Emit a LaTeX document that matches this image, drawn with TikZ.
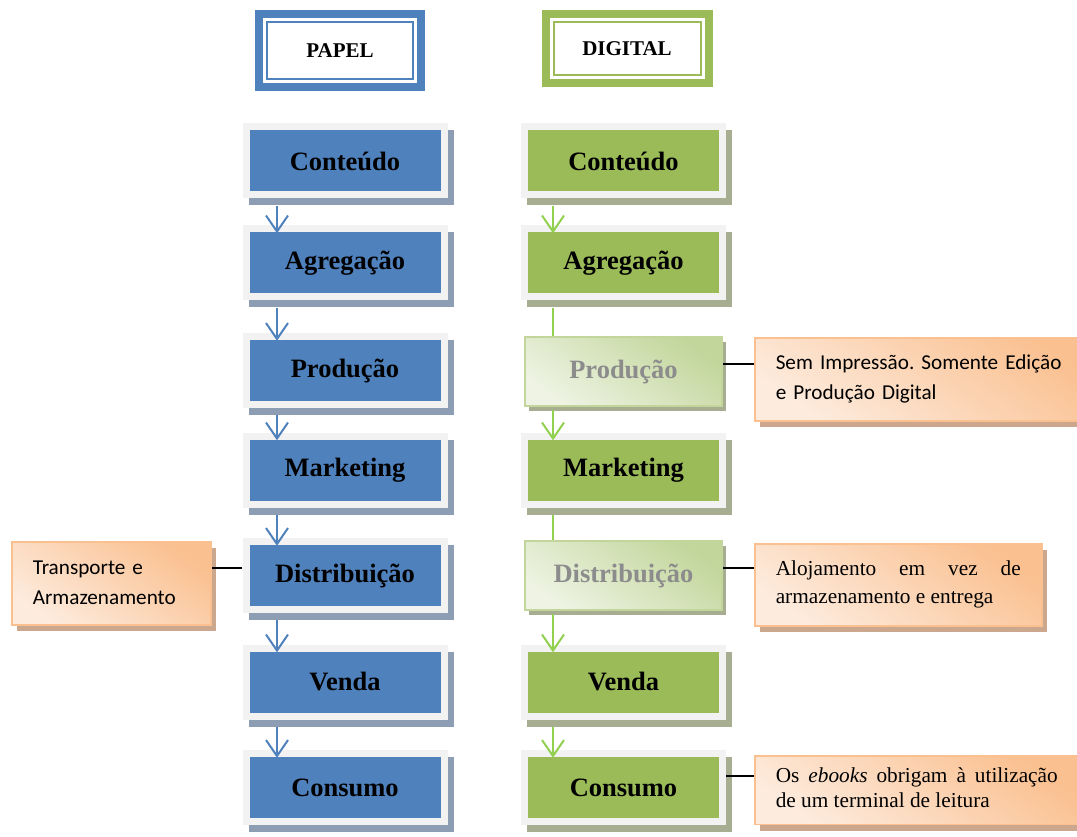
\documentclass[tikz,border=0pt]{standalone}
\usepackage{fontspec}
\setmainfont{Liberation Serif}
\newfontfamily\calibri{Carlito}
\usetikzlibrary{arrows.meta,shadows}
\frenchspacing

\definecolor{azul}{HTML}{4F81BD}
\definecolor{azulsombra}{HTML}{8D9DB3}
\definecolor{verde}{HTML}{9BBB59}
\definecolor{verdesombra}{HTML}{A6AD91}
\definecolor{verdeseta}{HTML}{92D050}
\definecolor{verdeesc}{HTML}{C2D69B}
\definecolor{verdeclaro}{HTML}{EEF3E3}
\definecolor{moldura}{HTML}{F2F2F2}
\definecolor{cinza}{HTML}{8C8C8C}
\definecolor{laranjaesc}{HTML}{FAC090}
\definecolor{laranjaclaro}{HTML}{FDEBDD}
\definecolor{laranjasombra}{HTML}{CBA88D}

\tikzset{
  titulo/.style={draw=#1, line width=8pt, outer sep=0pt, inner sep=0pt,
    font=\fontsize{21}{24}\selectfont\bfseries},
  fase/.style 2 args={minimum width=205pt, minimum height=75pt, inner sep=0pt,
    fill=moldura, font=\fontsize{26.5}{30}\selectfont\bfseries,
    drop shadow={shadow xshift=6pt, shadow yshift=-7pt, fill=#2, opacity=1},
    path picture={\fill[#1] ([xshift=7pt,yshift=-7pt]path picture bounding box.north west)
      rectangle ([xshift=-7pt,yshift=7pt]path picture bounding box.south east);}},
  semfase/.style={minimum width=197pt, minimum height=69pt, inner sep=0pt,
    draw=verdeesc, line width=2pt, top color=verdeesc, bottom color=verdeclaro,
    shading angle=-35, text=cinza, font=\fontsize{26.5}{30}\selectfont\bfseries,
    drop shadow={shadow xshift=4pt, shadow yshift=-5pt, fill=verdesombra, opacity=1}},
  nota/.style={anchor=north west, inner xsep=21pt, inner ysep=0pt, line width=1.5pt,
    draw=laranjaesc, top color=laranjaesc, bottom color=laranjaclaro, shading angle=-35,
    drop shadow={shadow xshift=5pt, shadow yshift=-6pt, fill=laranjasombra, opacity=1}},
  seta/.style={-{Straight Barb[length=16pt,width=22pt]}, line width=2pt, draw=#1},
  liga/.style={line width=2pt, black}
}

\begin{document}
\begin{tikzpicture}[x=1pt,y=-1pt]
	\useasboundingbox (0,0) rectangle (1077,837);

	\node[titulo=azul, minimum width=162pt, minimum height=73pt] (papel) at (340,50.5) {PAPEL};
	\node[titulo=verde, minimum width=163pt, minimum height=69pt] (digital) at (627,48.7) {DIGITAL};
	\draw[azul, line width=2pt] ([shift={(8,8)}]papel.north west) rectangle ([shift={(-8,-8)}]papel.south east);
	\draw[verde, line width=2pt] ([shift={(8,8)}]digital.north west) rectangle ([shift={(-8,-8)}]digital.south east);

	\node[fase={azul}{azulsombra}] (p1) at (345,161) {Conteúdo};
	\node[fase={azul}{azulsombra}] (p2) at (345,263) {Agregação};
	\node[fase={azul}{azulsombra}] (p3) at (345,370.5) {Produção};
	\node[fase={azul}{azulsombra}] (p4) at (345,470) {Marketing};
	\node[fase={azul}{azulsombra}] (p5) at (345,575.5) {Distribuição};
	\node[fase={azul}{azulsombra}] (p6) at (345,682) {Venda};
	\node[fase={azul}{azulsombra}] (p7) at (345,787.5) {Consumo};

	\node[fase={verde}{verdesombra}] (d1) at (623.5,161) {Conteúdo};
	\node[fase={verde}{verdesombra}] (d2) at (623.5,263) {Agregação};
	\node[semfase] (d3) at (623.5,371.5) {Produção};
	\node[fase={verde}{verdesombra}] (d4) at (623.5,470) {Marketing};
	\node[semfase] (d5) at (623.5,575.5) {Distribuição};
	\node[fase={verde}{verdesombra}] (d6) at (623.5,682) {Venda};
	\node[fase={verde}{verdesombra}] (d7) at (623.5,787.5) {Consumo};

	\draw[seta=azul] ([shift={(-68,7)}]p1.south) -- ([shift={(-68,8)}]p2.north);
	\draw[seta=azul] ([shift={(-68,7)}]p2.south) -- ([shift={(-68,8)}]p3.north);
	\draw[seta=azul] ([shift={(-68,7)}]p3.south) -- ([shift={(-68,8)}]p4.north);
	\draw[seta=azul] ([shift={(-68,7)}]p4.south) -- ([shift={(-68,8)}]p5.north);
	\draw[seta=azul] ([shift={(-68,7)}]p5.south) -- ([shift={(-68,8)}]p6.north);
	\draw[seta=azul] ([shift={(-68,7)}]p6.south) -- ([shift={(-68,8)}]p7.north);

	\draw[seta=verdeseta] ([shift={(-70.5,7)}]d1.south) -- ([shift={(-70.5,8)}]d2.north);
	\draw[verdeseta, line width=2pt] ([shift={(-70.5,7)}]d2.south) -- ([xshift=-70.5pt]d3.north);
	\draw[seta=verdeseta] ([shift={(-70.5,3)}]d3.south) -- ([shift={(-70.5,8)}]d4.north);
	\draw[verdeseta, line width=2pt] ([shift={(-70.5,7)}]d4.south) -- ([xshift=-70.5pt]d5.north);
	\draw[seta=verdeseta] ([shift={(-70.5,3)}]d5.south) -- ([shift={(-70.5,8)}]d6.north);
	\draw[seta=verdeseta] ([shift={(-70.5,7)}]d6.south) -- ([shift={(-70.5,8)}]d7.north);

	\node[nota, text width=157pt, minimum height=83pt, align=left,
		font=\calibri\fontsize{21.2}{30}\selectfont] (n1) at (11,541) {Transporte e\\Armazenamento};
	\node[nota, text width=300pt, minimum height=83pt, align=left,
		font=\calibri\fontsize{21.2}{30}\selectfont] (n2) at (754,337) {Sem Impressão. Somente Edição\\e Produção Digital};
	\node[nota, text width=245pt, minimum height=82pt, align=justify,
		font=\fontsize{21.3}{28}\selectfont] (n3) at (754,543) {Alojamento em vez de\linebreak armazenamento e entrega};
	\node[nota, text width=282pt, inner ysep=12pt, text depth=30pt, align=justify,
		font=\fontsize{21.3}{25}\selectfont] (n4) at (754,755) {Os \emph{ebooks} obrigam à utilização\linebreak de um terminal de leitura};

	\path ([yshift=7.5pt]p5.west) coordinate (c1);
	\draw[liga] (c1) -- (c1 -| n1.east);
	\path ([yshift=7.5pt]d3.east) coordinate (c2);
	\draw[liga] (c2) -- (c2 -| n2.west);
	\path ([yshift=7.5pt]d5.east) coordinate (c3);
	\draw[liga] (c3) -- (c3 -| n3.west);
	\path ([yshift=11.5pt]d7.east) coordinate (c4);
	\draw[liga] (c4) -- (c4 -| n4.west);
\end{tikzpicture}
\end{document}
